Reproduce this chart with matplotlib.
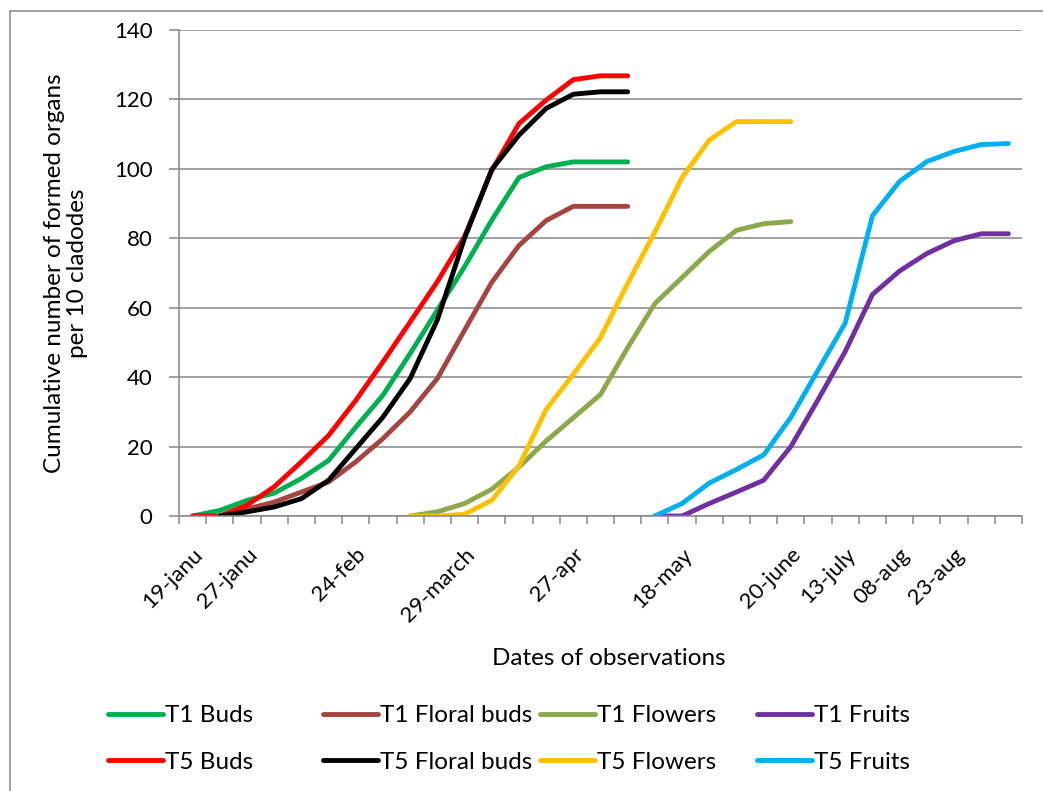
import numpy as np
import matplotlib.pyplot as plt
from matplotlib.transforms import ScaledTranslation
from matplotlib.patches import Rectangle

plt.rcParams['font.family'] = ['Lato', 'DejaVu Sans']

# --- DATA ---

dates = ['19-janu', '', '27-janu', '', '', '', '24-feb', '', '', '',
         '29-march', '', '', '', '27-apr', '', '', '', '18-may', '', '',
         '', '20-june', '', '13-july', '', '08-aug', '', '23-aug', '', '']

t1_buds = [0, 1.6, 4.5, 6.6, 10.8, 16.0, 25.6, 34.8, 46.8, 59.3, 71.8, 85.2,
           97.5, 100.6, 102.0, 102.0, 102.0, None, None, None, None, None,
           None, None, None, None, None, None, None, None, None]
t1_floral_buds = [None, 0, 2.0, 4.0, 6.9, 9.8, 15.6, 22.3, 30.0, 39.6, 53.5,
                  67.3, 77.9, 85.1, 89.2, 89.2, 89.2, None, None, None, None,
                  None, None, None, None, None, None, None, None, None, None]
t1_flowers = [None, None, None, None, None, None, None, None, 0, 1.2, 3.6, 7.7,
              14.1, 21.6, 28.3, 35.0, 48.5, 61.2, 68.7, 76.2, 82.3, 84.2, 84.8,
              None, None, None, None, None, None, None, None]
t1_fruits = [None, None, None, None, None, None, None, None, None, None, None,
             None, None, None, None, None, None, 0, 0, 3.6, 6.9, 10.3, 20.0,
             33.5, 47.4, 63.8, 70.6, 75.6, 79.3, 81.3, 81.3]
t5_buds = [0, 0, 3.1, 8.4, 15.6, 23.2, 33.3, 44.4, 55.9, 67.5, 80.5, 99.5,
           113.0, 119.8, 125.7, 126.8, 126.8, None, None, None, None, None,
           None, None, None, None, None, None, None, None, None]
t5_floral_buds = [None, 0, 1.2, 2.6, 5.0, 10.3, 19.4, 28.5, 39.6, 56.5, 80.0,
                  99.8, 109.7, 117.4, 121.5, 122.2, 122.2, None, None, None,
                  None, None, None, None, None, None, None, None, None, None,
                  None]
t5_flowers = [None, None, None, None, None, None, None, None, 0, 0, 0.5, 4.5,
              14.4, 30.7, 40.8, 51.4, 67.0, 81.8, 97.5, 108.3, 113.6, 113.6,
              113.6, None, None, None, None, None, None, None, None]
t5_fruits = [None, None, None, None, None, None, None, None, None, None, None,
             None, None, None, None, None, None, 0, 3.6, 9.5, 13.4, 17.6, 28.4,
             42.0, 55.6, 86.5, 96.4, 102.1, 105.0, 107.0, 107.3]

series = [
    ('T1 Buds', t1_buds, '#00B050'),
    ('T1 Floral buds', t1_floral_buds, '#A5453F'),
    ('T1 Flowers', t1_flowers, '#8BA84B'),
    ('T1 Fruits', t1_fruits, '#7030A0'),
    ('T5 Buds', t5_buds, '#FF0000'),
    ('T5 Floral buds', t5_floral_buds, '#000000'),
    ('T5 Flowers', t5_flowers, '#FFC000'),
    ('T5 Fruits', t5_fruits, '#00B0F0'),
]

grey = '#868686'

# --- PLOT ---

fig = plt.figure(figsize=(10.43, 7.91), dpi=100)
ax = fig.add_axes([179 / 1043, 1 - 516 / 791, 843 / 1043, 486 / 791])

x = np.arange(len(dates))
handles = {}
for name, values, color in series:
    y = np.array(values, dtype=float)
    line, = ax.plot(x, y, color=color, lw=3.5, solid_capstyle='round',
                    solid_joinstyle='round', label=name)
    handles[name] = line

ax.set_xlim(-0.5, len(dates) - 0.5)
ax.set_ylim(0, 140)
ax.set_yticks(range(0, 141, 20))

# ticks between categories, labels on the categories
ax.set_xticks(np.arange(-0.5, len(dates), 1))
ax.set_xticklabels([])
ax.set_xticks(x, minor=True)
ax.set_xticklabels(dates, minor=True, rotation=45, ha='right',
                   rotation_mode='anchor', fontsize=16)
for lbl in ax.get_xticklabels(minor=True):
    lbl.set_transform(lbl.get_transform()
                      + ScaledTranslation(0.03, 0, fig.dpi_scale_trans))

ax.tick_params(axis='x', which='major', length=6, width=1.1, color=grey)
ax.tick_params(axis='x', which='minor', length=0, pad=20.5)
ax.tick_params(axis='y', length=7, width=1.1, color=grey, pad=12,
               labelsize=16)

ax.grid(axis='y', color=grey, lw=1.1)
ax.set_axisbelow(True)
for side in ['top', 'right']:
    ax.spines[side].set_visible(False)
for side in ['left', 'bottom']:
    ax.spines[side].set_color(grey)
    ax.spines[side].set_linewidth(1.1)

ax.set_xlabel('Dates of observations', fontsize=17.5)
ax.xaxis.set_label_coords(0.5095, -0.272)
ax.set_ylabel('Cumulative number of formed organs\nper 10 cladodes',
              fontsize=17.5, linespacing=1.1)
ax.yaxis.set_label_coords(-0.108, 0.5)

# legend: 2 rows x 4 columns, each column placed like the Excel legend
columns = [('T1 Buds', 'T5 Buds'),
           ('T1 Floral buds', 'T5 Floral buds'),
           ('T1 Flowers', 'T5 Flowers'),
           ('T1 Fruits', 'T5 Fruits')]
col_x = [108, 323, 540, 757]
for names, cx in zip(columns, col_x):
    fig.legend([handles[n] for n in names], names, loc='center left',
               bbox_to_anchor=(cx / 1043, 1 - 739 / 791), frameon=False,
               fontsize=17.5, handlelength=2.25, handletextpad=0.1,
               labelspacing=1.05, borderpad=0, borderaxespad=0)

# chart area border
fig.add_artist(Rectangle((10 / 1043, -0.1), 1.2, 1.1 - 11 / 791,
                         transform=fig.transFigure, fill=False,
                         edgecolor=grey, lw=1.1))

fig.savefig('out.png', dpi=100)
